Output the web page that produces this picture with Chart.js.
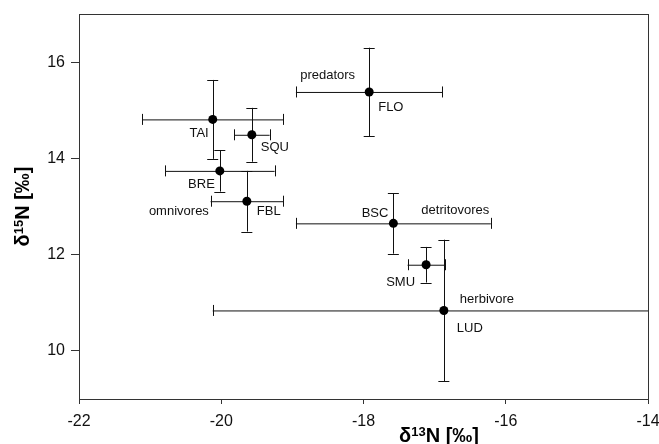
<!DOCTYPE html>
<html>
<head>
<meta charset="utf-8">
<script src="https://cdn.jsdelivr.net/npm/chart.js@4/dist/chart.umd.min.js"></script>
<style>
html,body{margin:0;padding:0;background:#fff;}
#c{display:block;}
</style>
</head>
<body>
<canvas id="c" width="659" height="444"></canvas>
<script>
// ---- data ----
const species = ['TAI','SQU','BRE','FBL','FLO','BSC','SMU','LUD'];
const d13C   = [-20.12,-19.57,-20.02,-19.64,-17.92,-17.58,-17.12,-16.87];
const d15N   = [14.81, 14.49, 13.74, 13.11, 15.38, 12.65, 11.79, 10.84];
const errX   = [0.99, 0.25, 0.77, 0.51, 1.03, 1.37, 0.26, 3.25];
const errY   = [0.82, 0.56, 0.43, 0.63, 0.92, 0.63, 0.37, 1.47];
const groupNames = ['predators','omnivores','detritovores','herbivore'];
const groupOf    = ['FLO','FBL','BSC','LUD'];
const xTicks = [-22,-20,-18,-16,-14];
const yTicks = [10,12,14,16];

// ---- label placement (pixel offsets from point, align) ----
const speciesLabelStyle = {
  TAI:{dx:-4,dy:14,align:'right'},
  SQU:{dx:9,dy:13,align:'left'},
  BRE:{dx:-5,dy:14,align:'right'},
  FBL:{dx:10,dy:10,align:'left'},
  FLO:{dx:9,dy:15,align:'left'},
  BSC:{dx:-5,dy:-10,align:'right'},
  SMU:{dx:-11,dy:18,align:'right'},
  LUD:{dx:13,dy:18,align:'left'}
};
const groupLabelStyle = [
  {dx:-69,dy:-17,align:'left'},
  {dx:-38,dy:10,align:'right'},
  {dx:28,dy:-13,align:'left'},
  {dx:16,dy:-11,align:'left'}
];

const FONT = '"Liberation Sans", Arial, sans-serif';
const points = species.map((s,i)=>({x:d13C[i], y:d15N[i]}));

function drawRich(ctx, parts){
  let w = 0;
  parts.forEach(p=>{ ctx.font = 'bold '+p.size+'px '+FONT; p.w = ctx.measureText(p.t).width; w += p.w; });
  let x = -w/2;
  parts.forEach(p=>{
    ctx.font = 'bold '+p.size+'px '+FONT;
    ctx.fillText(p.t, x, -(p.rise||0));
    x += p.w;
  });
}

const overlay = {
  id:'overlay',
  beforeDatasetsDraw(chart){
    const ctx = chart.ctx, xs = chart.scales.x, ys = chart.scales.y, a = chart.chartArea;
    ctx.save();
    ctx.beginPath();
    ctx.rect(a.left, a.top, a.right-a.left, a.bottom-a.top);
    ctx.clip();
    ctx.strokeStyle = '#111';
    ctx.lineWidth = 1;
    const cap = 5.5;
    species.forEach((s,i)=>{
      const px = xs.getPixelForValue(d13C[i]), py = ys.getPixelForValue(d15N[i]);
      const x1 = xs.getPixelForValue(d13C[i]-errX[i]), x2 = xs.getPixelForValue(d13C[i]+errX[i]);
      const y1 = ys.getPixelForValue(d15N[i]+errY[i]), y2 = ys.getPixelForValue(d15N[i]-errY[i]);
      ctx.beginPath();
      ctx.moveTo(x1, py+0.5); ctx.lineTo(x2, py+0.5);
      ctx.moveTo(Math.round(x1)+0.5, py-cap); ctx.lineTo(Math.round(x1)+0.5, py+cap);
      ctx.moveTo(Math.round(x2)+0.5, py-cap); ctx.lineTo(Math.round(x2)+0.5, py+cap);
      ctx.moveTo(Math.round(px)+0.5, y1); ctx.lineTo(Math.round(px)+0.5, y2);
      ctx.moveTo(px-cap, Math.round(y1)+0.5); ctx.lineTo(px+cap, Math.round(y1)+0.5);
      ctx.moveTo(px-cap, Math.round(y2)+0.5); ctx.lineTo(px+cap, Math.round(y2)+0.5);
      ctx.stroke();
    });
    ctx.restore();
  },
  afterDraw(chart){
    const ctx = chart.ctx, xs = chart.scales.x, ys = chart.scales.y, a = chart.chartArea;
    ctx.save();
    // frame
    ctx.strokeStyle = '#333';
    ctx.lineWidth = 1;
    ctx.strokeRect(Math.round(a.left)+0.5, Math.round(a.top)+0.5, Math.round(a.right-a.left), Math.round(a.bottom-a.top));
    // labels
    ctx.fillStyle = '#111';
    ctx.font = '13px '+FONT;
    ctx.textBaseline = 'middle';
    species.forEach((s,i)=>{
      const st = speciesLabelStyle[s];
      ctx.textAlign = st.align;
      ctx.fillText(s, xs.getPixelForValue(d13C[i])+st.dx, ys.getPixelForValue(d15N[i])+st.dy);
    });
    groupNames.forEach((g,k)=>{
      const i = species.indexOf(groupOf[k]);
      const st = groupLabelStyle[k];
      ctx.textAlign = st.align;
      ctx.fillText(g, xs.getPixelForValue(d13C[i])+st.dx, ys.getPixelForValue(d15N[i])+st.dy);
    });
    // axis titles
    ctx.fillStyle = '#000';
    ctx.textAlign = 'left';
    ctx.textBaseline = 'alphabetic';
    ctx.save();
    ctx.translate(439, 442);
    drawRich(ctx, [{t:'δ',size:20},{t:'13',size:13,rise:6},{t:'N [‰]',size:20}]);
    ctx.restore();
    ctx.save();
    ctx.translate(29, (a.top+a.bottom)/2);
    ctx.rotate(-Math.PI/2);
    drawRich(ctx, [{t:'δ',size:20},{t:'15',size:13,rise:6},{t:'N [‰]',size:20}]);
    ctx.restore();
    ctx.restore();
  }
};

new Chart(document.getElementById('c'), {
  type:'scatter',
  data:{datasets:[{
    data: points,
    pointRadius:4.5,
    pointHoverRadius:4.5,
    backgroundColor:'#000',
    borderColor:'#000',
    borderWidth:0
  }]},
  options:{
    responsive:false,
    animation:false,
    events:[],
    layout:{padding:{top:14,right:11,left:0,bottom:0}},
    plugins:{legend:{display:false},tooltip:{enabled:false}},
    scales:{
      x:{
        type:'linear', min:-22, max:-14,
        afterBuildTicks(s){ s.ticks = xTicks.map(v=>({value:v})); },
        afterFit(s){ s.height = 45; s.paddingLeft = 0; s.paddingRight = 0; },
        grid:{drawOnChartArea:false, drawTicks:true, tickLength:5, color:'#333'},
        border:{display:true, color:'#333'},
        ticks:{font:{family:FONT,size:16}, color:'#111', padding:8, maxRotation:0}
      },
      y:{
        type:'linear', min:9, max:17,
        afterBuildTicks(s){ s.ticks = yTicks.map(v=>({value:v})); },
        afterFit(s){ s.width = 79; s.paddingTop = 0; s.paddingBottom = 0; },
        grid:{drawOnChartArea:false, drawTicks:true, tickLength:8, color:'#333'},
        border:{display:true, color:'#333'},
        ticks:{font:{family:FONT,size:16}, color:'#111', padding:6}
      }
    }
  },
  plugins:[overlay]
});
</script>
</body>
</html>
